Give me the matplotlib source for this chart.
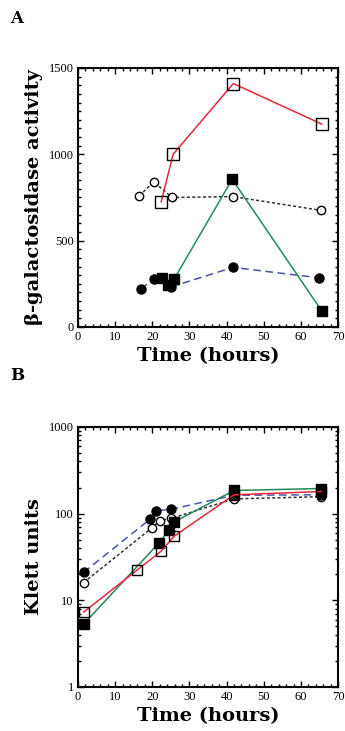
import matplotlib
matplotlib.use("Agg")
import matplotlib.pyplot as plt
from matplotlib.ticker import MultipleLocator, LogLocator, FixedLocator, FixedFormatter, NullFormatter

plt.rcParams['font.family'] = ['DejaVu Serif']

# ---- Panel A data: beta-galactosidase activity ----
a_osq_t = [22.4, 25.6, 41.8, 65.6]
a_osq_v = [725, 1000, 1410, 1175]
a_fsq_t = [22.6, 24.3, 25.8, 41.5, 65.7]
a_fsq_v = [285, 245, 275, 855, 90]
a_ocir_t = [16.5, 20.4, 25.3, 41.8, 65.5]
a_ocir_v = [760, 840, 750, 755, 675]
a_fcir_t = [16.9, 20.5, 22.3, 25.0, 41.7, 64.8]
a_fcir_v = [222, 275, 285, 232, 345, 285]

# ---- Panel B data: Klett units ----
b_osq_t = [1.5, 16.0, 22.4, 25.9, 42.0, 65.5]
b_osq_v = [7.3, 22.5, 37, 55, 165, 180]
b_fsq_t = [1.5, 21.8, 24.4, 25.8, 42.0, 65.5]
b_fsq_v = [5.3, 46, 64, 80, 185, 195]
b_fcir_t = [1.5, 19.5, 21.1, 24.9, 42.0, 65.5]
b_fcir_v = [21, 87, 108, 112, 163, 165]
b_ocir_t = [1.5, 19.8, 22.0, 25.0, 42.0, 65.5]
b_ocir_v = [16, 68, 83, 88, 148, 157]

xticks = [0, 10, 20, 30, 40, 50, 60, 70]

RED = '#e8283a'
GREEN = '#23895a'
BLUE = '#4456aa'
BLK = '#333333'

fig = plt.figure(figsize=(3.45, 7.31), dpi=100)
axA = fig.add_axes([0.226, 0.5527, 0.754, 0.3543])
axB = fig.add_axes([0.226, 0.0602, 0.754, 0.3557])

def style(ax):
    ax.set_xlim(0, 70)
    ax.xaxis.set_major_locator(FixedLocator(xticks))
    ax.xaxis.set_minor_locator(MultipleLocator(2))
    ax.tick_params(which='both', direction='in', top=True, right=True,
                   labelsize=9, width=1.0, pad=3)
    ax.tick_params(which='major', length=4)
    ax.tick_params(which='minor', length=2.5)
    for lab in ax.get_xticklabels() + ax.get_yticklabels():
        lab.set_family(['Liberation Serif'])
    for s in ax.spines.values():
        s.set_linewidth(1.5)
    ax.set_xlabel('Time (hours)', fontsize=14, fontweight='bold', labelpad=3)

lw = 1.1
# Panel A
axA.plot(a_ocir_t, a_ocir_v, color=BLK, lw=lw, ls=(0, (2, 1.5)), marker='o',
         mfc='white', mec='black', ms=6, mew=1.0, zorder=3)
axA.plot(a_fcir_t, a_fcir_v, color=BLUE, lw=lw, ls=(0, (5, 3)), marker='o',
         mfc='black', mec='black', ms=6.5, zorder=3)
axA.plot(a_fsq_t, a_fsq_v, color=GREEN, lw=lw, marker='s',
         mfc='black', mec='black', ms=7.5, zorder=4)
axA.plot(a_osq_t, a_osq_v, color=RED, lw=lw, marker='s',
         mfc='none', mec='black', ms=8, mew=1.0, zorder=5)
axA.set_ylim(0, 1500)
axA.yaxis.set_major_locator(MultipleLocator(500))
axA.yaxis.set_minor_locator(MultipleLocator(50))
style(axA)
axA.set_ylabel('β-galactosidase activity', fontsize=14, fontweight='bold', labelpad=4)

# Panel B
axB.plot(b_ocir_t, b_ocir_v, color=BLK, lw=lw, ls=(0, (2, 1.5)), marker='o',
         mfc='white', mec='black', ms=6, mew=1.0, zorder=3)
axB.plot(b_fcir_t, b_fcir_v, color=BLUE, lw=lw, ls=(0, (5, 3)), marker='o',
         mfc='black', mec='black', ms=6.5, zorder=3)
axB.plot(b_fsq_t, b_fsq_v, color=GREEN, lw=lw, marker='s',
         mfc='black', mec='black', ms=7, zorder=4)
axB.plot(b_osq_t, b_osq_v, color=RED, lw=lw, marker='s',
         mfc='none', mec='black', ms=7, mew=1.0, zorder=5)
axB.set_yscale('log')
axB.set_ylim(1, 1000)
axB.yaxis.set_major_locator(FixedLocator([1, 10, 100, 1000]))
axB.yaxis.set_major_formatter(FixedFormatter(['1', '10', '100', '1000']))
axB.yaxis.set_minor_locator(LogLocator(base=10, subs=range(2, 10)))
axB.yaxis.set_minor_formatter(NullFormatter())
style(axB)
axB.set_ylabel('Klett units', fontsize=14, fontweight='bold', labelpad=4)

fig.text(0.03, 0.975, 'A', fontsize=12, fontweight='bold', va='center', ha='left')
fig.text(0.03, 0.486, 'B', fontsize=12, fontweight='bold', va='center', ha='left')

fig.savefig('out.png', dpi=100)
